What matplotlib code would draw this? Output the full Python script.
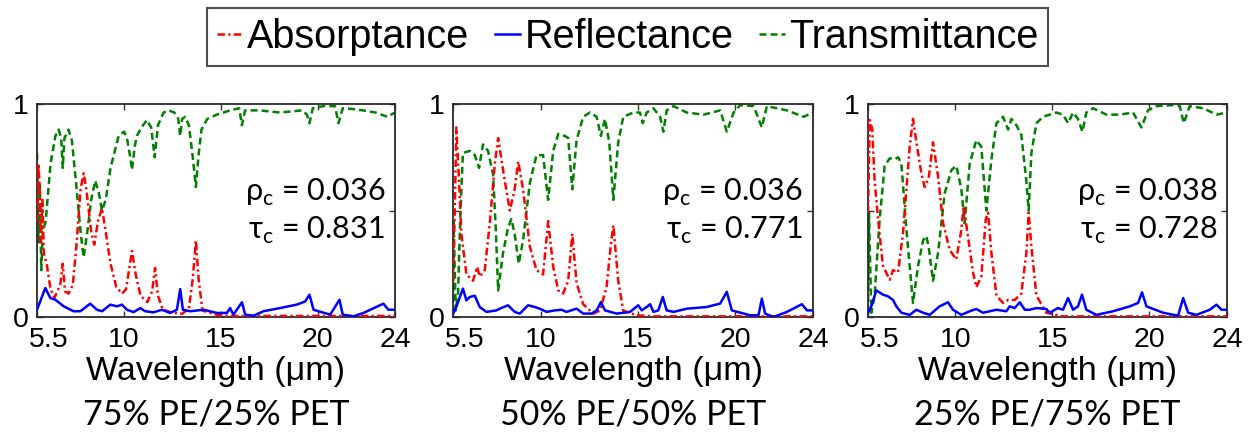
import matplotlib
matplotlib.use("Agg")
import matplotlib.pyplot as plt
from matplotlib.lines import Line2D
from matplotlib.transforms import ScaledTranslation

# ---------------- data ----------------
# Panel 1: 75% PE / 25% PET
p1_T_wl = [5.50, 5.58, 5.65, 5.72, 5.80, 5.95, 6.20, 6.45, 6.62, 6.75, 6.83, 6.92, 7.13, 7.30, 7.55,
           7.75, 7.91, 8.10, 8.30, 8.51, 8.70, 8.86, 9.05, 9.30, 9.72, 10.0, 10.15, 10.30, 10.41, 10.55,
           10.66, 10.90, 11.18, 11.40, 11.58, 11.75, 12.04, 12.30, 12.60, 12.80, 12.90, 13.0, 13.16,
           13.35, 13.55, 13.71, 13.85, 14.0, 14.3, 14.79, 15.48, 15.95, 16.09, 16.25, 17.0, 18.06,
           19.2, 19.45, 19.58, 19.75, 20.3, 20.9, 21.08, 21.3, 22.0, 23.0, 23.6, 24.0]
p1_T = [0.77, 0.35, 0.62, 0.22, 0.40, 0.45, 0.72, 0.85, 0.88, 0.84, 0.70, 0.84, 0.88, 0.83, 0.60,
        0.40, 0.28, 0.40, 0.55, 0.64, 0.58, 0.50, 0.55, 0.70, 0.85, 0.87, 0.84, 0.76, 0.69, 0.80,
        0.85, 0.89, 0.925, 0.89, 0.75, 0.90, 0.96, 0.97, 0.96, 0.93, 0.85, 0.93, 0.94,
        0.90, 0.75, 0.61, 0.76, 0.88, 0.93, 0.95, 0.97, 0.98, 0.90, 0.97, 0.97, 0.96,
        0.97, 0.95, 0.91, 0.98, 0.99, 0.99, 0.91, 0.98, 0.975, 0.96, 0.94, 0.96]
p1_A_wl = [5.50, 5.58, 5.64, 5.70, 5.78, 5.85, 6.0, 6.2, 6.4, 6.55, 6.7, 6.83, 6.95, 7.13, 7.35,
           7.55, 7.75, 7.91, 8.05, 8.30, 8.46, 8.65, 8.86, 9.05, 9.30, 9.60, 9.90, 10.1, 10.41,
           10.6, 10.85, 11.2, 11.45, 11.6, 11.75, 12.0, 12.5, 13.0, 13.35, 13.55, 13.71, 13.85,
           14.05, 14.79, 15.5, 24.0]
p1_A = [0.45, 0.72, 0.60, 0.35, 0.55, 0.30, 0.25, 0.13, 0.09, 0.12, 0.15, 0.25, 0.12, 0.11, 0.15,
        0.35, 0.60, 0.675, 0.60, 0.40, 0.34, 0.45, 0.51, 0.40, 0.25, 0.14, 0.11, 0.13, 0.31,
        0.20, 0.10, 0.07, 0.12, 0.23, 0.10, 0.035, 0.02, 0.015, 0.04, 0.18, 0.36, 0.18,
        0.03, 0.01, 0.005, 0.005]
p1_R_wl = [5.5, 5.93, 6.19, 6.45, 6.88, 7.39, 7.74, 8.25, 8.60, 8.86, 9.29, 9.63, 9.89, 10.15,
           10.49, 10.84, 11.09, 11.52, 11.95, 12.38, 12.73, 12.90, 13.04, 13.42, 14.11, 14.79,
           15.31, 15.48, 15.65, 16.09, 16.26, 16.69, 17.20, 18.06, 18.92, 19.36, 19.58, 19.79,
           20.65, 21.13, 21.30, 21.85, 22.37, 23.40, 23.66, 24.0]
p1_R = [0.034, 0.136, 0.089, 0.081, 0.05, 0.027, 0.027, 0.0625, 0.034, 0.027, 0.058, 0.05, 0.058,
        0.034, 0.023, 0.042, 0.027, 0.022, 0.034, 0.019, 0.034, 0.131, 0.034, 0.027, 0.034, 0.019,
        0.019, 0.042, 0.011, 0.069, 0.011, 0.006, 0.027, 0.042, 0.058, 0.073, 0.105, 0.034,
        0.011, 0.081, 0.011, 0.003, 0.019, 0.0625, 0.034, 0.034]

# Panel 2: 50% PE / 50% PET
p2_T_wl = [5.5, 5.53, 5.64, 5.76, 5.88, 6.01, 6.36, 6.62, 6.84, 7.04, 7.30, 7.56, 7.70, 7.82, 8.07,
           8.33, 8.50, 8.67, 8.88, 9.10, 9.45, 9.79, 10.13, 10.39, 10.65, 10.91, 11.25, 11.42,
           11.63, 11.85, 12.19, 12.54, 12.88, 13.10, 13.31, 13.53, 13.74, 13.99, 14.25, 14.77,
           15.11, 15.25, 15.45, 15.80, 16.14, 16.31, 16.48, 16.83, 17.51, 18.37, 19.23, 19.57,
           19.92, 20.26, 20.95, 21.37, 21.63, 22.66, 23.52, 24.0]
p2_T = [0.016, 0.45, 0.03, 0.11, 0.49, 0.77, 0.78, 0.76, 0.70, 0.81, 0.78, 0.67, 0.41, 0.125, 0.30,
        0.42, 0.46, 0.39, 0.25, 0.36, 0.63, 0.76, 0.76, 0.55, 0.78, 0.86, 0.85, 0.84,
        0.60, 0.83, 0.94, 0.96, 0.94, 0.85, 0.93, 0.82, 0.55, 0.82, 0.94, 0.96,
        0.96, 0.91, 0.96, 0.98, 0.94, 0.87, 0.97, 0.99, 0.96, 0.95, 0.97, 0.87,
        0.96, 0.995, 0.99, 0.89, 0.99, 0.97, 0.94, 0.96]
p2_A_wl = [5.5, 5.59, 5.67, 5.81, 5.93, 6.19, 6.53, 6.74, 6.87, 7.13, 7.39, 7.65, 7.82, 8.16, 8.42,
           8.67, 8.85, 9.10, 9.45, 9.79, 10.13, 10.39, 10.65, 10.91, 11.16, 11.42, 11.63, 11.85,
           12.19, 12.71, 13.05, 13.39, 13.60, 13.74, 13.99, 14.25, 14.94, 15.80, 24.0]
p2_A = [0.17, 0.49, 0.89, 0.64, 0.39, 0.20, 0.17, 0.235, 0.19, 0.22, 0.44, 0.72, 0.84, 0.64, 0.50,
        0.60, 0.73, 0.60, 0.33, 0.22, 0.20, 0.45, 0.235, 0.125, 0.11, 0.17, 0.39, 0.16,
        0.06, 0.016, 0.03, 0.14, 0.33, 0.43, 0.17, 0.03, 0.008, 0.003, 0.003]
p2_R_wl = [5.5, 5.67, 6.01, 6.19, 6.36, 6.62, 6.87, 7.22, 7.73, 7.90, 8.33, 8.67, 8.93, 9.36, 9.70,
           9.96, 10.31, 10.73, 11.08, 11.33, 11.85, 12.19, 12.62, 12.88, 13.10, 13.31, 13.91,
           14.60, 15.02, 15.20, 15.45, 15.63, 15.80, 16.05, 16.28, 16.48, 16.83, 17.51, 18.54,
           19.23, 19.57, 19.83, 20.77, 21.20, 21.37, 21.54, 21.97, 22.66, 23.43, 23.69, 24.0]
p2_R = [0.016, 0.047, 0.133, 0.078, 0.094, 0.10, 0.047, 0.024, 0.031, 0.039, 0.055, 0.024, 0.016,
        0.055, 0.047, 0.039, 0.024, 0.031, 0.034, 0.024, 0.039, 0.016, 0.016, 0.031, 0.07, 0.031,
        0.016, 0.024, 0.055, 0.031, 0.047, 0.06, 0.024, 0.031, 0.094, 0.031, 0.024, 0.039, 0.047,
        0.063, 0.118, 0.031, 0.008, 0.008, 0.086, 0.016, 0.0, 0.024, 0.06, 0.031, 0.031]

# Panel 3: 25% PE / 75% PET
p3_T_wl = [5.5, 5.55, 5.67, 5.84, 6.10, 6.36, 6.62, 6.87, 7.05, 7.22, 7.48, 7.82, 8.08, 8.34, 8.51,
           8.64, 8.85, 9.11, 9.45, 9.80, 10.05, 10.31, 10.48, 10.74, 11.08, 11.34, 11.60, 11.86,
           12.12, 12.46, 12.72, 12.89, 13.15, 13.40, 13.66, 13.78, 13.92, 14.18, 14.52, 14.86,
           15.21, 15.55, 15.81, 16.07, 16.32, 16.55, 16.75, 17.10, 17.79, 18.47, 19.16, 19.59,
           19.93, 20.36, 21.22, 21.57, 21.77, 22.08, 22.77, 23.46, 24.0]
p3_T = [0.02, 0.49, 0.02, 0.10, 0.46, 0.71, 0.745, 0.74, 0.75, 0.72, 0.41, 0.066, 0.24, 0.36, 0.38,
        0.32, 0.17, 0.30, 0.58, 0.69, 0.71, 0.60, 0.44, 0.72, 0.83, 0.80, 0.50, 0.74,
        0.91, 0.94, 0.88, 0.93, 0.90, 0.855, 0.64, 0.50, 0.77, 0.91, 0.94, 0.95,
        0.96, 0.95, 0.91, 0.96, 0.93, 0.87, 0.96, 0.98, 0.95, 0.95, 0.96, 0.89,
        0.97, 0.99, 0.995, 0.99, 0.91, 0.99, 0.98, 0.95, 0.96]
p3_A_wl = [5.5, 5.59, 5.72, 5.84, 6.02, 6.27, 6.62, 6.79, 7.05, 7.30, 7.65, 7.82, 8.03, 8.25, 8.42,
           8.64, 8.85, 9.11, 9.37, 9.71, 10.05, 10.31, 10.43, 10.65, 10.91, 11.08, 11.34, 11.57,
           11.69, 11.86, 12.12, 12.46, 12.72, 13.06, 13.40, 13.66, 13.78, 13.92, 14.18, 14.69,
           15.55, 24.0]
p3_A = [0.49, 0.925, 0.88, 0.64, 0.46, 0.24, 0.175, 0.22, 0.21, 0.39, 0.80, 0.93, 0.80, 0.675, 0.61,
        0.66, 0.82, 0.66, 0.44, 0.315, 0.27, 0.41, 0.52, 0.38, 0.21, 0.14, 0.19, 0.46,
        0.49, 0.30, 0.10, 0.066, 0.08, 0.08, 0.11, 0.30, 0.49, 0.33, 0.10, 0.02,
        0.003, 0.003]
p3_R_wl = [5.5, 5.67, 5.93, 6.27, 6.53, 6.79, 6.96, 7.22, 7.65, 7.99, 8.34, 8.68, 9.19, 9.62, 9.88,
           10.31, 10.74, 11.08, 11.43, 12.12, 12.63, 12.80, 13.06, 13.32, 13.58, 13.83, 14.18,
           14.69, 14.86, 15.29, 15.55, 15.81, 16.07, 16.32, 16.53, 16.75, 17.27, 18.13, 18.99,
           19.42, 19.62, 19.85, 20.71, 21.48, 21.74, 22.0, 22.42, 23.11, 23.46, 23.72, 24.0]
p3_R = [0.02, 0.05, 0.125, 0.105, 0.097, 0.08, 0.05, 0.02, 0.01, 0.034, 0.02, 0.01, 0.05, 0.069,
        0.034, 0.01, 0.027, 0.0375, 0.02, 0.034, 0.027, 0.05, 0.042, 0.069, 0.034, 0.034, 0.042,
        0.0375, 0.02, 0.042, 0.034, 0.089, 0.034, 0.05, 0.105, 0.034, 0.01, 0.027, 0.05,
        0.066, 0.116, 0.05, 0.02, 0.006, 0.089, 0.02, 0.01, 0.034, 0.058, 0.034, 0.034]

rho_c = ["0.036", "0.036", "0.038"]
tau_c = ["0.831", "0.771", "0.728"]
captions = ["75% PE/25% PET", "50% PE/50% PET", "25% PE/75% PET"]
series_names = ["Absorptance", "Reflectance", "Transmittance"]
x_ticks = [5.5, 10, 15, 20, 24]
x_ticklabels = ["5.5", "10", "15", "20", "24"]
y_ticks = [0, 0.5, 1]
y_ticklabels = ["0", "", "1"]

panels = [
    (p1_A_wl, p1_A, p1_R_wl, p1_R, p1_T_wl, p1_T),
    (p2_A_wl, p2_A, p2_R_wl, p2_R, p2_T_wl, p2_T),
    (p3_A_wl, p3_A, p3_R_wl, p3_R, p3_T_wl, p3_T),
]

# ---------------- styling ----------------
ARIAL = ["Liberation Sans", "DejaVu Sans"]
CALIBRI = ["Lato", "Noto Sans", "DejaVu Sans"]
RED, BLUE, GREEN = "#ff0000", "#0000ff", "#008000"
LW = 1.8
A_STYLE = dict(color=RED, lw=LW, linestyle=(0, (3.0, 1.3, 0.9, 1.3)))
R_STYLE = dict(color=BLUE, lw=LW, linestyle="-")
T_STYLE = dict(color=GREEN, lw=LW, linestyle=(0, (2.8, 1.6)))

W, H = 1255, 437
fig = plt.figure(figsize=(W / 100, H / 100), dpi=100)
fig.patch.set_facecolor("white")

ax_px = [(37, 395), (453, 813), (868, 1227)]
top_px, bot_px = 104, 317

for i, (lr, data) in enumerate(zip(ax_px, panels)):
    l, r = lr
    ax = fig.add_axes([l / W, 1 - bot_px / H, (r - l) / W, (bot_px - top_px) / H])
    a_wl, a, r_wl, rr, t_wl, t = data
    ax.plot(a_wl, a, **A_STYLE, zorder=3)
    ax.plot(r_wl, rr, **R_STYLE, zorder=4)
    ax.plot(t_wl, t, **T_STYLE, zorder=2)
    ax.set_xlim(5.5, 24)
    ax.set_ylim(0, 1)
    ax.set_xticks(x_ticks)
    ax.set_xticklabels(x_ticklabels, fontfamily=ARIAL, fontsize=20.5)
    ax.set_yticks(y_ticks)
    ax.set_yticklabels(y_ticklabels, fontfamily=ARIAL, fontsize=20.5)
    ax.tick_params(direction="in", length=4, width=1.0, color="#333333",
                   top=True, right=True, labelcolor="black")
    ax.tick_params(axis="x", pad=7)
    ax.tick_params(axis="y", pad=6)
    for s in ax.spines.values():
        s.set_color("#2a2a2a")
        s.set_linewidth(1.3)
    # shift the first x tick label to the right as in the reference
    t0 = ax.xaxis.get_major_ticks()[0].label1
    t0.set_transform(t0.get_transform() + ScaledTranslation(12 / 100, 0, fig.dpi_scale_trans))

    ax.set_xlabel("Wavelength (μm)", fontfamily=ARIAL, fontsize=24.5)
    ax.xaxis.label.set_va("center")
    ax.xaxis.set_label_coords(0.5, -0.258)

    ax.text(0.972, 0.585, "ρ$_\\mathregular{c}$ = " + rho_c[i], transform=ax.transAxes,
            ha="right", va="center", fontsize=22, fontfamily=CALIBRI)
    ax.text(0.972, 0.405, "τ$_\\mathregular{c}$ = " + tau_c[i], transform=ax.transAxes,
            ha="right", va="center", fontsize=22, fontfamily=CALIBRI)

    fig.text((l + r) / 2 / W, 1 - 414 / H, captions[i], ha="center", va="center",
             fontsize=24.5, fontfamily=CALIBRI)

handles = [Line2D([], [], **A_STYLE), Line2D([], [], **R_STYLE), Line2D([], [], **T_STYLE)]
leg = fig.legend(handles, series_names, loc="center", bbox_to_anchor=(627.5 / W, 1 - 37 / H),
                 ncol=3, frameon=True, fancybox=False, handlelength=0.65, handletextpad=0.1,
                 columnspacing=0.65, borderpad=0.25, borderaxespad=0,
                 prop=dict(family=ARIAL, size=28.5))
leg.get_frame().set_edgecolor("#222222")
leg.get_frame().set_linewidth(1.5)

fig.savefig("out.png", dpi=100, facecolor="white")
